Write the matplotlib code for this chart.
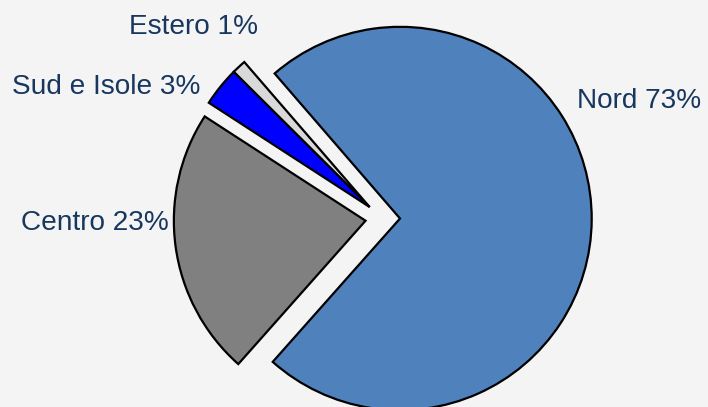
import numpy as np
import matplotlib.pyplot as plt

# slice shares (%), in drawing order
labels = ['Nord', 'Estero', 'Sud e Isole', 'Centro']
shares = [72.9, 1.2, 3.3, 22.6]
shown = ['73%', '1%', '3%', '23%']
colors = ['#4F81BD', '#D9D9D9', '#0000FF', '#808080']

# label anchors in pixel space (left edge, baseline)
label_pos = {
    'Nord': (577, 298.5),
    'Estero': (129, 373.5),
    'Sud e Isole': (12.5, 312.5),
    'Centro': (21, 177),
}

W, H = 708, 407
fig = plt.figure(figsize=(W / 100, H / 100), dpi=100)
fig.patch.set_facecolor('#F4F4F4')
ax = fig.add_axes([0, 0, 1, 1])
ax.set_facecolor('#F4F4F4')

radius = 191.7
start = 228.4
gap = 17.3
cx, cy = 382.7, H - 218.4
# explode is in data units here (not a fraction), since radius is in pixels
wedges, _ = ax.pie(shares, colors=colors, startangle=start, counterclock=True,
                   center=(cx, cy), radius=radius,
                   explode=[gap] * len(shares),
                   wedgeprops=dict(edgecolor='black', linewidth=1.6))

# Estero and Sud e Isole are pulled out together, as one block
a0 = start + 360 * shares[0] / 100
a1 = a0 + 360 * (shares[1] + shares[2]) / 100
mid = np.deg2rad((a0 + a1) / 2)
for w in wedges[1:3]:
    w.set_center((cx + gap * np.cos(mid), cy + gap * np.sin(mid)))

for name, txt in zip(labels, shown):
    x, y = label_pos[name]
    ax.text(x, y, f'{name} {txt}', ha='left', va='baseline',
            fontsize=20.2, color='#17375E', family='Liberation Sans')

ax.set_xlim(0, W)
ax.set_ylim(0, H)
ax.set_aspect('equal')
ax.axis('off')

fig.savefig('out.png', dpi=100, facecolor=fig.get_facecolor())
